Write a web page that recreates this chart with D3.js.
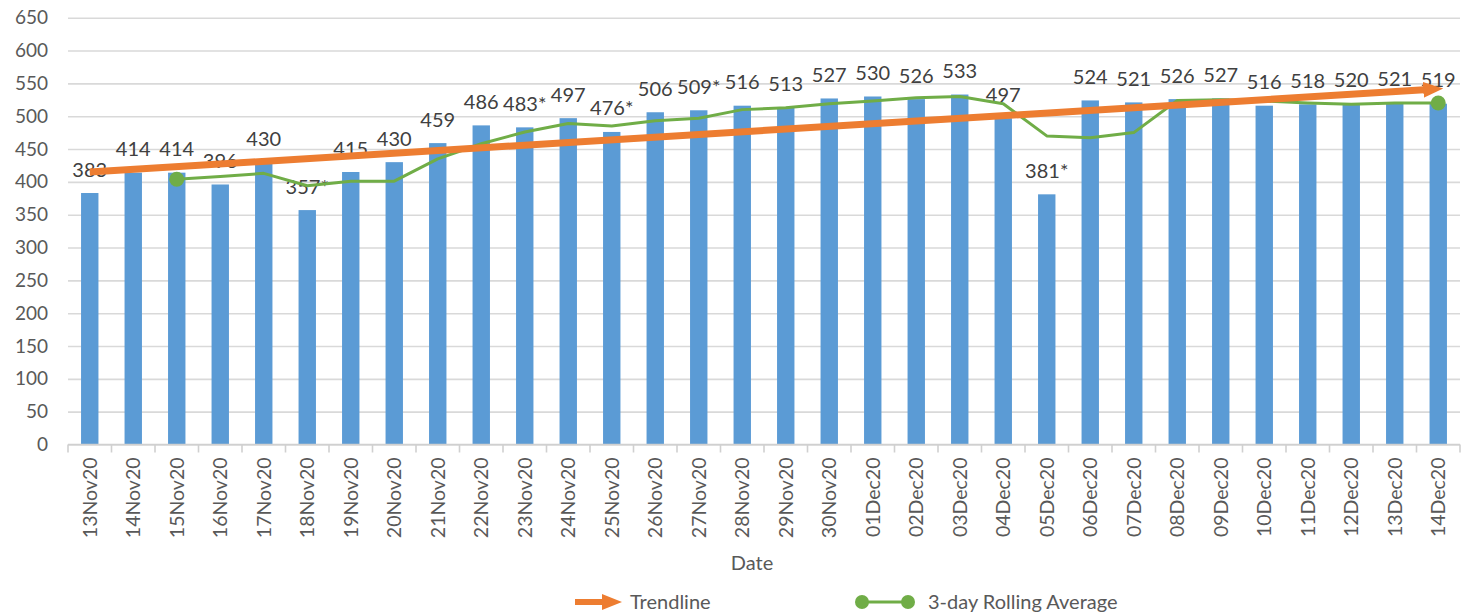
<!DOCTYPE html>
<html>
<head>
<meta charset="utf-8">
<script src="https://cdn.jsdelivr.net/npm/d3@7/dist/d3.min.js"></script>
<style>
  body { margin: 0; background: #fff; }
  text { font-family: Lato, "Open Sans", sans-serif; }
</style>
</head>
<body>
<div id="chart"></div>
<script>
// ------- data -------

var dates = ["13Nov20","14Nov20","15Nov20","16Nov20","17Nov20","18Nov20","19Nov20","20Nov20",
  "21Nov20","22Nov20","23Nov20","24Nov20","25Nov20","26Nov20","27Nov20","28Nov20","29Nov20",
  "30Nov20","01Dec20","02Dec20","03Dec20","04Dec20","05Dec20","06Dec20","07Dec20","08Dec20",
  "09Dec20","10Dec20","11Dec20","12Dec20","13Dec20","14Dec20"];

var counts = [383,414,414,396,430,357,415,430,459,486,483,497,476,506,509,516,513,527,530,526,
  533,497,381,524,521,526,527,516,518,520,521,519];

// days flagged with an asterisk in the labels
var flagged = ["18Nov20","23Nov20","25Nov20","27Nov20","05Dec20"];

// 3-day rolling average, starts on 15Nov20
var rollDates = dates.slice(2);
var rolling = [404,408,413,394,401,401,435,458,476,489,485,493,497,510,513,519,523,528,530,
  519,470,467,475,524,525,523,520,518,520,520];

// trendline end values (first and last day)
var trendDates = ["13Nov20","14Dec20"];
var trend = [415,541];

var yTicks = d3.range(0, 651, 50);

// ------- setup -------
// (window.top is read-only, so no globals called top/left here)

var W = 1464, H = 615;
var plotL = 68, plotR = 1460, plotT = 17.7, plotB = 444.5;
var textCol = "#595959";

var svg = d3.select("#chart").append("svg")
  .attr("width", W).attr("height", H);

var x = d3.scaleBand().domain(dates).range([plotL, plotR])
  .paddingInner(0.6).paddingOuter(0.3);
var y = d3.scaleLinear().domain([0, 650]).range([plotB, plotT]);

function cx(d) { return x(d) + x.bandwidth() / 2; }

// grid + y labels
var yAxis = svg.append("g")
  .attr("transform", "translate(" + plotL + ",0)")
  .call(d3.axisLeft(y).tickValues(yTicks).tickSize(-(plotR - plotL)).tickPadding(20));
yAxis.select(".domain").remove();
yAxis.selectAll(".tick line").attr("stroke", "#d9d9d9").attr("stroke-width", 1.6);
yAxis.selectAll(".tick text")
  .attr("fill", textCol).style("font-size", "19px")
  .style("font-family", "Lato, sans-serif");

// bars
svg.append("g").selectAll("rect")
  .data(counts)
  .enter().append("rect")
  .attr("x", function(d, i) { return x(dates[i]); })
  .attr("y", function(d) { return y(d); })
  .attr("width", x.bandwidth())
  .attr("height", function(d) { return y(0) - y(d); })
  .attr("fill", "#5b9bd5");

// x axis line and ticks at band boundaries
svg.append("line")
  .attr("x1", plotL).attr("x2", plotR)
  .attr("y1", y(0)).attr("y2", y(0))
  .attr("stroke", "#d0d0d0").attr("stroke-width", 1.6);

var bounds = dates.map(function(d) { return cx(d) - x.step() / 2; });
bounds.push(cx(dates[dates.length - 1]) + x.step() / 2);
svg.append("g").selectAll("line")
  .data(bounds)
  .enter().append("line")
  .attr("x1", function(d) { return d; }).attr("x2", function(d) { return d; })
  .attr("y1", y(0)).attr("y2", y(0) + 8)
  .attr("stroke", "#d0d0d0").attr("stroke-width", 1.6);

// rotated date labels
svg.append("g").selectAll("text")
  .data(dates)
  .enter().append("text")
  .attr("transform", function(d) { return "translate(" + (cx(d) + 7) + "," + (y(0) + 13) + ") rotate(-90)"; })
  .attr("text-anchor", "end")
  .attr("fill", textCol)
  .style("font-size", "19.5px")
  .text(function(d) { return d; });

// axis title
svg.append("text")
  .attr("x", 752).attr("y", 570)
  .attr("text-anchor", "middle")
  .attr("fill", textCol)
  .style("font-size", "20px")
  .text("Date");

// data labels (drawn before the lines so the lines sit on top)
svg.append("g").selectAll("text")
  .data(counts)
  .enter().append("text")
  .attr("x", function(d, i) { return cx(dates[i]); })
  .attr("y", function(d) { return y(d) - 16.5; })
  .attr("text-anchor", "middle")
  .attr("fill", "#404040")
  .style("font-size", "20px")
  .text(function(d, i) { return d + (flagged.indexOf(dates[i]) >= 0 ? "*" : ""); });

// rolling average
var line = d3.line()
  .x(function(d, i) { return cx(rollDates[i]); })
  .y(function(d) { return y(d); });

svg.append("path")
  .datum(rolling)
  .attr("d", line)
  .attr("fill", "none")
  .attr("stroke", "#70ad47")
  .attr("stroke-width", 3)
  .attr("stroke-linejoin", "round");

svg.append("g").selectAll("circle")
  .data([0, rolling.length - 1])
  .enter().append("circle")
  .attr("cx", function(i) { return cx(rollDates[i]); })
  .attr("cy", function(i) { return y(rolling[i]); })
  .attr("r", 7.5)
  .attr("fill", "#70ad47");

// trendline with arrow head
var defs = svg.append("defs");
defs.append("marker")
  .attr("id", "arrow")
  .attr("markerUnits", "userSpaceOnUse")
  .attr("viewBox", "0 0 20 16")
  .attr("markerWidth", 20).attr("markerHeight", 16)
  .attr("refX", 9).attr("refY", 8)
  .attr("orient", "auto")
  .append("path")
  .attr("d", "M0,0 L20,8 L0,16 Z")
  .attr("fill", "#ed7d31");

svg.append("path")
  .datum(trend)
  .attr("d", d3.line()
    .x(function(d, i) { return cx(trendDates[i]) - (i ? 6 : 0); })
    .y(function(d) { return y(d); }))
  .attr("fill", "none")
  .attr("stroke", "#ed7d31")
  .attr("stroke-width", 7)
  .attr("marker-end", "url(#arrow)");

// ------- legend -------

var lg = svg.append("g");
lg.append("line")
  .attr("x1", 575).attr("x2", 611).attr("y1", 602).attr("y2", 602)
  .attr("stroke", "#ed7d31").attr("stroke-width", 6)
  .attr("marker-end", "url(#arrow)");
lg.append("text")
  .attr("x", 630).attr("y", 609)
  .attr("fill", textCol).style("font-size", "20px")
  .text("Trendline");

lg.append("line")
  .attr("x1", 862).attr("x2", 908).attr("y1", 602).attr("y2", 602)
  .attr("stroke", "#70ad47").attr("stroke-width", 3);
lg.selectAll("circle")
  .data([862, 908])
  .enter().append("circle")
  .attr("cx", function(d) { return d; }).attr("cy", 602)
  .attr("r", 7).attr("fill", "#70ad47");
lg.append("text")
  .attr("x", 928).attr("y", 609)
  .attr("fill", textCol).style("font-size", "20px")
  .text("3-day Rolling Average");
</script>
</body>
</html>
